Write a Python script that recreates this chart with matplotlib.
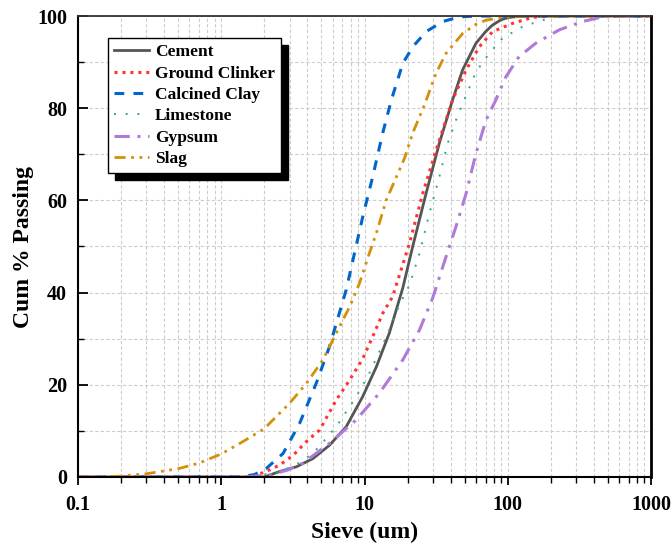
import matplotlib
matplotlib.use("Agg")
import matplotlib.pyplot as plt
from matplotlib.ticker import LogLocator, FixedLocator, MultipleLocator, NullFormatter

plt.rcParams['font.family'] = ['Liberation Serif', 'DejaVu Serif']
plt.rcParams['font.weight'] = 'bold'

cement_x = [0.1, 1.0, 2.0, 2.56, 3.34, 4.37, 5.7, 7.45, 9.7, 12.1, 14.9, 18.5, 21.7, 26.9, 33.3, 41.2, 48.4, 60, 70, 78, 90, 102, 130, 1000]
cement_y = [0, 0, 0, 1.2, 2.2, 4.0, 6.9, 10.9, 17.4, 23.9, 31.2, 41, 50, 61.5, 72.4, 81.8, 88.3, 94.1, 96.6, 98, 99.2, 99.7, 100, 100]

clinker_x = [0.1, 1.5, 2.0, 2.56, 3.2, 3.93, 4.86, 6.35, 7.86, 9.73, 11.4, 13.4, 15.7, 20.6, 25.5, 31.6, 41.2, 51.2, 63.2, 78.3, 108, 149, 200, 1000]
clinker_y = [0, 0, 1.0, 2.6, 4.8, 7.7, 10.2, 16.7, 21.0, 25.7, 30.4, 35.5, 39.1, 50.7, 61.5, 70.9, 81.8, 88.3, 93.3, 96.6, 98.4, 99.7, 100, 100]

clay_x = [0.1, 1.3, 1.7, 2.07, 2.70, 3.52, 4.6, 5.7, 7.45, 9.73, 11.4, 13.4, 15.4, 18.5, 21.7, 26.9, 35.2, 45.9, 60, 1000]
clay_y = [0, 0, 0.5, 1.9, 5.1, 11.6, 20.3, 28.3, 40.6, 56.5, 65.1, 74.6, 81.8, 89.7, 93.3, 96.6, 98.8, 99.8, 100, 100]

lime_x = [0.1, 1.5, 2.5, 3.3, 4.37, 6.35, 8.75, 10.8, 14.2, 17.5, 20.6, 24.2, 28.4, 33.3, 38.1, 43.5, 49.8, 60, 74.3, 92, 127, 175, 218, 300, 1000]
lime_y = [0, 0, 1.0, 2.6, 5.1, 10.9, 17.4, 22.5, 30.4, 37.3, 41.6, 48.5, 57.2, 65.1, 72.4, 77.4, 81.9, 87.9, 91.9, 95.2, 97.7, 99.1, 99.8, 100, 100]

gyp_x = [0.1, 1.5, 2.2, 2.9, 3.72, 5.7, 8.75, 12.7, 18.5, 24.2, 29.9, 37.1, 43.5, 51.2, 60, 70.5, 82.6, 97, 120, 157, 229, 332, 458, 600, 1000]
gyp_y = [0, 0, 0.5, 1.5, 3.0, 7.3, 12.4, 18.2, 25.4, 31.9, 38.8, 47.8, 54.3, 61.5, 70.2, 77.4, 81.8, 86.8, 91.2, 94.1, 97.0, 98.8, 99.8, 100, 100]

slag_x = [0.1, 0.15, 0.2, 0.3, 0.5, 0.7, 1.0, 1.42, 2.0, 3.0, 3.93, 5.12, 6.35, 7.86, 9.22, 10.8, 12.1, 14.2, 19.0, 21.7, 26.2, 31.6, 37.1, 48.4, 60, 70.5, 97, 130, 1000]
slag_y = [0, 0, 0.2, 0.7, 1.8, 3.0, 5.0, 7.7, 10.5, 16.0, 20.3, 25.4, 31.2, 36.9, 42.0, 48.5, 52.9, 60.1, 69.1, 74.6, 80.7, 87.6, 91.9, 96.2, 98.2, 99.1, 99.8, 100, 100]

fig = plt.figure(figsize=(6.71, 5.47), dpi=100)
ax = fig.add_axes([78/671, 70/547, (651-78)/671, (477-16)/547])

ax.plot(cement_x, cement_y, color='#555555', lw=2.0, ls='-', label='Cement')
ax.plot(clinker_x, clinker_y, color='#ff3333', lw=2.2, ls=(0, (1, 1.6)), label='Ground Clinker')
ax.plot(clay_x, clay_y, color='#0066cc', lw=2.2, ls=(0, (3.2, 3.0)), label='Calcined Clay')
ax.plot(lime_x, lime_y, color='#2eaa77', lw=1.4, ls=(0, (1, 5)), label='Limestone')
ax.plot(gyp_x, gyp_y, color='#b07ad8', lw=2.2, ls=(0, (5, 2.5, 1, 2.5)), label='Gypsum')
ax.plot(slag_x, slag_y, color='#d4900a', lw=2.0, ls=(0, (4, 2, 1, 2, 1, 2)), label='Slag')

ax.set_xscale('log')
ax.set_xlim(0.1, 1000)
ax.set_ylim(0, 100)
ax.xaxis.set_major_locator(FixedLocator([0.1, 1, 10, 100, 1000]))
ax.set_xticklabels(['0.1', '1', '10', '100', '1000'])
ax.xaxis.set_minor_locator(LogLocator(base=10, subs=range(2, 10)))
ax.xaxis.set_minor_formatter(NullFormatter())
ax.yaxis.set_major_locator(MultipleLocator(20))
ax.yaxis.set_minor_locator(MultipleLocator(10))

ax.grid(True, which='both', axis='x', color='#cccccc', ls=(0, (3, 2)), lw=0.8)
ax.grid(True, which='both', axis='y', color='#cccccc', ls=(0, (3, 2)), lw=0.8)
ax.set_axisbelow(True)

ax.tick_params(axis='x', which='major', direction='out', length=6, width=1.3, labelsize=14.5, pad=7)
ax.tick_params(axis='x', which='minor', direction='out', length=4, width=1.0)
ax.tick_params(axis='y', which='major', direction='in', length=7, width=1.3, labelsize=14.5, pad=8)
ax.tick_params(axis='y', which='minor', direction='in', length=4, width=1.0)
for lbl in ax.get_xticklabels() + ax.get_yticklabels():
    lbl.set_fontweight('bold')

for s in ['left', 'bottom']:
    ax.spines[s].set_linewidth(1.5)
    ax.spines[s].set_color('black')
ax.spines['right'].set_linewidth(2.0)
ax.spines['right'].set_color('black')
ax.spines['top'].set_linewidth(1.3)
ax.spines['top'].set_color('#333333')

ax.set_xlabel('Sieve (um)', fontsize=17, fontweight='bold', labelpad=5)
ax.set_ylabel('Cum % Passing', fontsize=17, fontweight='bold', labelpad=2)

leg = ax.legend(loc='upper left', bbox_to_anchor=((108-78)/573, (477-38)/461),
                prop={'weight': 'bold', 'size': 12.5},
                frameon=True, fancybox=False, edgecolor='black', framealpha=1,
                shadow={'ox': 5, 'oy': -5, 'color': 'black', 'alpha': 1},
                handlelength=2.0, handletextpad=0.35, labelspacing=0.3, borderpad=0.35,
                borderaxespad=0)
leg.get_frame().set_linewidth(1.0)

fig.savefig('out.png', dpi=100)
